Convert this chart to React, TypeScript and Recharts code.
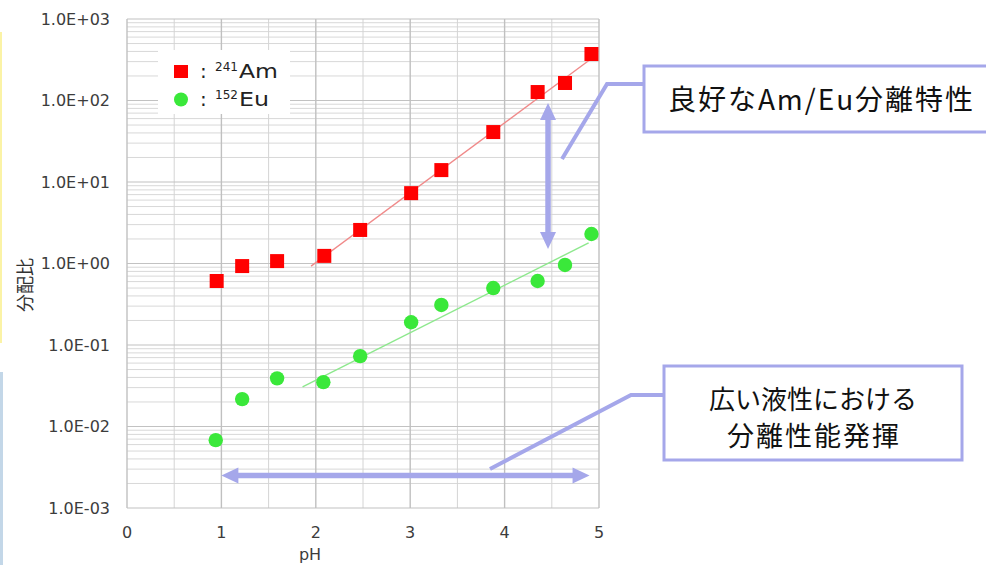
import React from 'react';
import { ComposedChart, XAxis, YAxis, Scatter, Line, ReferenceLine, Legend } from 'recharts';

// ---- data ----
const phAm = [0.95, 1.22, 1.59, 2.09, 2.47, 3.01, 3.33, 3.88, 4.35, 4.64, 4.92];
const amValues = [0.61, 0.93, 1.07, 1.24, 2.58, 7.3, 14, 41, 127, 164, 372];
const phEu = [0.94, 1.22, 1.59, 2.08, 2.47, 3.01, 3.33, 3.88, 4.35, 4.64, 4.92];
const euValues = [0.0068, 0.0217, 0.039, 0.035, 0.073, 0.19, 0.31, 0.5, 0.61, 0.96, 2.3];

// trend lines (end points)
const amFitPh = [1.95, 4.9];
const amFitValues = [0.93, 314];
const euFitPh = [1.86, 4.89];
const euFitValues = [0.0306, 1.79];

// annotation arrows (in data units)
const sepArrowPh = [4.46, 4.46];
const sepArrowValues = [93, 1.51];
const rangeArrowPh = [1.0, 4.9];
const rangeArrowValues = [0.0025, 0.0025];

const xTicks = [0, 1, 2, 3, 4, 5];
const xHalfGrid = [0.5, 1.5, 2.5, 3.5, 4.5];
const yTicks = [0.001, 0.01, 0.1, 1, 10, 100, 1000];
const yTickLabels = ['1.0E-03', '1.0E-02', '1.0E-01', '1.0E+00', '1.0E+01', '1.0E+02', '1.0E+03'];
const minorMultipliers = [2, 3, 4, 5, 6, 7, 8, 9];

const legendLabels = [
  { mass: '241', el: 'Am', len: 39 },
  { mass: '152', el: 'Eu', len: 30 },
];
const callout1 = '良好なAm/Eu分離特性';
const callout2 = ['広い液性における', '分離性能発揮'];
const yTitle = '分配比';
const xTitle = 'pH';

// ---- tables built from the arrays ----
const amData = phAm.map((x, i) => ({ x, y: amValues[i] }));
const euData = phEu.map((x, i) => ({ x, y: euValues[i] }));
const amFit = amFitPh.map((x, i) => ({ x, y: amFitValues[i] }));
const euFit = euFitPh.map((x, i) => ({ x, y: euFitValues[i] }));
const minorY: number[] = [];
yTicks.slice(0, -1).forEach((d) => minorMultipliers.forEach((m) => minorY.push(+(d * m).toPrecision(3))));

const RED = '#ff0000';
const GREEN = '#3ae83a';
const LAV = '#a5a7ea';
const TICK = '#3c3c3c';
const FONT = '"DejaVu Sans", Verdana, sans-serif';
const JP = '"Noto Sans CJK JP", "Noto Sans CJK SC", sans-serif';

const SquareShape = (p: any) => (
  <rect x={p.cx - 7} y={p.cy - 7} width={14} height={14} fill={RED} />
);
const CircleShape = (p: any) => <circle cx={p.cx} cy={p.cy} r={7.2} fill={GREEN} />;

const DoubleArrow = (p: any) => {
  const { x1, y1, x2, y2 } = p;
  const dx = x2 - x1;
  const dy = y2 - y1;
  const L = Math.hypot(dx, dy) || 1;
  const ux = dx / L;
  const uy = dy / L;
  const nx = -uy;
  const ny = ux;
  const h = 17;
  const w = 8;
  const head = (tx: number, ty: number, s: number) =>
    `${tx},${ty} ${tx - s * ux * h + nx * w},${ty - s * uy * h + ny * w} ${tx - s * ux * h - nx * w},${ty - s * uy * h - ny * w}`;
  return (
    <g>
      <line
        x1={x1 + ux * (h - 2)}
        y1={y1 + uy * (h - 2)}
        x2={x2 - ux * (h - 2)}
        y2={y2 - uy * (h - 2)}
        stroke={LAV}
        strokeWidth={5.5}
      />
      <polygon points={head(x2, y2, 1)} fill={LAV} />
      <polygon points={head(x1, y1, -1)} fill={LAV} />
    </g>
  );
};

const LegendBox = () => (
  <svg width={132} height={64} style={{ display: 'block' }}>
    <rect x={16} y={15} width={14} height={13} fill={RED} />
    <circle cx={23} cy={49.5} r={7} fill={GREEN} />
    {legendLabels.map((l, i) => (
      <g key={l.el} fontFamily={FONT} fill="#222">
        <text x={42} y={28 + i * 28} fontSize={20}>:</text>
        <text x={57} y={21 + i * 28} fontSize={12}>{l.mass}</text>
        <text x={81} y={28 + i * 28} fontSize={20} textLength={l.len} lengthAdjust="spacingAndGlyphs">{l.el}</text>
      </g>
    ))}
  </svg>
);

export default function App() {
  return (
    <div style={{ position: 'absolute', left: 0, top: 0, width: 986, height: 565, background: '#fff', overflow: 'hidden' }}>
      <ComposedChart width={986} height={565} margin={{ top: 19, right: 387, bottom: 0, left: 0 }}>
        <XAxis
          dataKey="x"
          type="number"
          domain={[0, 5]}
          ticks={xTicks}
          allowDataOverflow
          axisLine={false}
          tickLine={false}
          tickSize={0}
          tickMargin={19}
          height={57}
          tick={{ fill: TICK, fontSize: 16, fontFamily: FONT }}
        />
        <YAxis
          dataKey="y"
          type="number"
          scale="log"
          domain={[0.001, 1000]}
          ticks={yTicks}
          allowDataOverflow
          axisLine={false}
          tickLine={false}
          tickSize={0}
          tickMargin={17}
          width={127}
          tickFormatter={(v: number) => yTickLabels[yTicks.indexOf(v)] ?? String(v)}
          tick={{ fill: TICK, fontSize: 16, fontFamily: FONT }}
        />
        {minorY.map((v) => (
          <ReferenceLine key={'my' + v} y={v} stroke="#d8d8d8" strokeWidth={1} zIndex={-100} />
        ))}
        {xHalfGrid.map((v) => (
          <ReferenceLine key={'hx' + v} x={v} stroke="#d4d4d4" strokeWidth={1} zIndex={-100} />
        ))}
        {yTicks.map((v) => (
          <ReferenceLine key={'dy' + v} y={v} stroke="#c2c2c2" strokeWidth={1.2} zIndex={-100} />
        ))}
        {xTicks.map((v) => (
          <ReferenceLine key={'ix' + v} x={v} stroke="#c0c0c0" strokeWidth={1.4} zIndex={-100} />
        ))}
        <Line data={amFit} dataKey="y" type="linear" stroke="#f08a8a" strokeWidth={1.4} dot={false} activeDot={false} isAnimationActive={false} legendType="none" />
        <Line data={euFit} dataKey="y" type="linear" stroke="#8de88d" strokeWidth={1.4} dot={false} activeDot={false} isAnimationActive={false} legendType="none" />
        <Scatter name="241Am" data={amData} dataKey="y" shape={SquareShape} isAnimationActive={false} />
        <Scatter name="152Eu" data={euData} dataKey="y" shape={CircleShape} isAnimationActive={false} />
        <ReferenceLine
          segment={[{ x: sepArrowPh[0], y: sepArrowValues[0] }, { x: sepArrowPh[1], y: sepArrowValues[1] }]}
          ifOverflow="visible"
          shape={DoubleArrow}
        />
        <ReferenceLine
          segment={[{ x: rangeArrowPh[0], y: rangeArrowValues[0] }, { x: rangeArrowPh[1], y: rangeArrowValues[1] }]}
          ifOverflow="visible"
          shape={DoubleArrow}
        />
        <Legend
          layout="horizontal"
          verticalAlign="middle"
          align="center"
          content={() => <LegendBox />}
          wrapperStyle={{ left: 158, top: 50, width: 132, height: 64, background: '#fff' }}
        />
      </ComposedChart>
      <svg width={986} height={565} style={{ position: 'absolute', left: 0, top: 0, pointerEvents: 'none' }}>
        <rect x={0} y={32} width={2} height={311} fill="#fbf3a6" />
        <rect x={0} y={372} width={3} height={193} fill="#c3d7e8" />
        <text x={24} y={285} transform="rotate(-90 24 285)" textAnchor="middle" dominantBaseline="central" fontSize={18} fontFamily={JP} fill="#333">
          {yTitle}
        </text>
        <text x={310} y={560} textAnchor="middle" fontSize={16} fontFamily={FONT} fill={TICK}>
          {xTitle}
        </text>
        <polyline points="644,84 607,84 562,159" fill="none" stroke={LAV} strokeWidth={4} />
        <rect x={644} y={66} width={360} height={66} fill="#fff" stroke={LAV} strokeWidth={3} />
        <text x={820.5} y={110} textAnchor="middle" fontSize={28} fontFamily={JP} fill="#111" textLength={305} lengthAdjust="spacing">
          {callout1}
        </text>
        <polyline points="664,395 631,395 490,469" fill="none" stroke={LAV} strokeWidth={4} />
        <rect x={664} y={366} width={298} height={94} fill="#fff" stroke={LAV} strokeWidth={3} />
        <text x={813} y={409} textAnchor="middle" fontSize={26} fontFamily={JP} fill="#111">
          {callout2[0]}
        </text>
        <text x={813} y={446} textAnchor="middle" fontSize={27} fontFamily={JP} fill="#111" textLength={172} lengthAdjust="spacing">
          {callout2[1]}
        </text>
      </svg>
    </div>
  );
}
